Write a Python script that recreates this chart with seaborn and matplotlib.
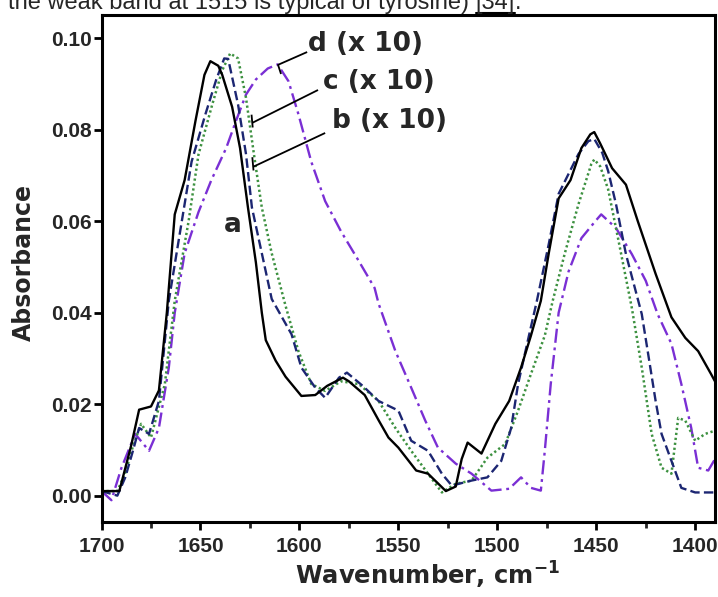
import matplotlib
matplotlib.use("Agg")
import matplotlib.pyplot as plt
import seaborn as sns
import pandas as pd
from matplotlib.ticker import MultipleLocator, FormatStrFormatter
from matplotlib.lines import Line2D

# ---------------- data ----------------
wn_a = [1700, 1691, 1688, 1685, 1681, 1675, 1671, 1667, 1663, 1658, 1652.5, 1648, 1645, 1641,
        1639, 1634, 1630, 1626, 1622, 1619, 1617, 1612, 1607, 1599, 1592, 1586, 1578, 1575,
        1567, 1560, 1555, 1550, 1541, 1535, 1526, 1521, 1518, 1515, 1508, 1501, 1494, 1488,
        1483, 1478, 1474, 1469, 1463, 1457.5, 1453, 1451, 1448, 1442, 1435, 1429, 1420, 1412,
        1405, 1398.5, 1392, 1390]
abs_a = [0.001, 0.001, 0.006, 0.011, 0.0188, 0.0195, 0.023, 0.040, 0.0615, 0.069, 0.082, 0.092,
         0.095, 0.094, 0.092, 0.085, 0.076, 0.063, 0.051, 0.040, 0.034, 0.0295, 0.026, 0.0218,
         0.022, 0.024, 0.0258, 0.025, 0.022, 0.0165, 0.0127, 0.0105, 0.0055, 0.0048, 0.001,
         0.002, 0.008, 0.0116, 0.0092, 0.0157, 0.0207, 0.028, 0.035, 0.0426, 0.053, 0.065,
         0.069, 0.076, 0.079, 0.0795, 0.077, 0.0716, 0.068, 0.060, 0.0485, 0.039, 0.0345,
         0.0316, 0.0266, 0.025]

wn_b = [1700, 1692, 1688, 1684, 1681, 1676, 1671, 1666, 1660, 1654.5, 1647.5, 1642, 1638, 1636,
        1631, 1627, 1624, 1619, 1614, 1604, 1599, 1592, 1587, 1580, 1576, 1568, 1560, 1550,
        1543.5, 1535, 1528, 1523, 1513, 1505, 1498, 1493, 1489.5, 1484, 1480, 1474, 1469,
        1459, 1454, 1451, 1447, 1444, 1440, 1435, 1427, 1424, 1420, 1417, 1412, 1407, 1400,
        1390]
abs_b = [0.001, 0.0, 0.004, 0.010, 0.0148, 0.0135, 0.0207, 0.0426, 0.0585, 0.073, 0.0834, 0.091,
         0.0956, 0.0955, 0.0855, 0.0747, 0.063, 0.053, 0.043, 0.0353, 0.028, 0.0236, 0.0214,
         0.0258, 0.0269, 0.024, 0.0207, 0.0186, 0.012, 0.0098, 0.0048, 0.0022, 0.0033, 0.004,
         0.0076, 0.0148, 0.0244, 0.035, 0.0426, 0.055, 0.066, 0.0747, 0.0775, 0.078, 0.075,
         0.071, 0.0637, 0.0528, 0.0397, 0.0316, 0.0207, 0.0135, 0.0076, 0.0017, 0.0007, 0.0007]

wn_c = [1700, 1692, 1688, 1684, 1680, 1675, 1668, 1663, 1656, 1651, 1644, 1639, 1635, 1631,
        1627, 1623, 1619, 1614, 1607, 1600.5, 1594, 1587, 1579, 1570, 1560, 1551.5, 1543.5,
        1535, 1528, 1521, 1513, 1505, 1496, 1489.5, 1483, 1476, 1472, 1466, 1459, 1452.5,
        1451, 1448, 1444, 1439, 1432, 1427, 1422, 1417, 1412, 1408.6, 1405, 1400, 1395, 1390]
abs_c = [0.001, 0.001, 0.005, 0.011, 0.0157, 0.0127, 0.0244, 0.0426, 0.060, 0.0746, 0.0856,
         0.093, 0.0967, 0.0956, 0.087, 0.0747, 0.063, 0.053, 0.0415, 0.0316, 0.0244, 0.0229,
         0.025, 0.0244, 0.0207, 0.0148, 0.0098, 0.0048, 0.0007, 0.0026, 0.0033, 0.0083, 0.0113,
         0.0186, 0.0266, 0.035, 0.0426, 0.0528, 0.0637, 0.0725, 0.0735, 0.072, 0.067, 0.0563,
         0.041, 0.028, 0.0135, 0.0061, 0.0048, 0.017, 0.0164, 0.012, 0.0135, 0.0142]

wn_d = [1700, 1695, 1690, 1683, 1676, 1671, 1666, 1663, 1658, 1651, 1644.5, 1637, 1632, 1627,
        1622, 1616, 1611, 1605.5, 1600.5, 1594, 1587, 1579, 1570, 1562, 1560, 1551.5, 1543.5,
        1536.4, 1530, 1521, 1513, 1503, 1494, 1488, 1483, 1478, 1476, 1473, 1469, 1464,
        1457.5, 1450.5, 1447.5, 1440, 1432, 1425, 1419, 1412, 1407, 1402, 1398.5, 1393.4, 1390]
abs_d = [0.001, -0.001, 0.006, 0.0135, 0.0098, 0.0148, 0.028, 0.040, 0.053, 0.062, 0.069, 0.076,
         0.082, 0.0877, 0.091, 0.0934, 0.0943, 0.0906, 0.0834, 0.073, 0.0644, 0.0578, 0.0513,
         0.0454, 0.042, 0.0316, 0.0236, 0.0164, 0.0105, 0.007, 0.0048, 0.0011, 0.0015, 0.004,
         0.0017, 0.0011, 0.0098, 0.0244, 0.040, 0.049, 0.0563, 0.060, 0.0615, 0.0585, 0.0528,
         0.047, 0.0397, 0.0332, 0.0244, 0.0148, 0.0061, 0.0055, 0.008]

series_labels = ["a", "b (x 10)", "c (x 10)", "d (x 10)"]
x_ticks = [1700, 1650, 1600, 1550, 1500, 1450, 1400]
y_ticks = [0.00, 0.02, 0.04, 0.06, 0.08, 0.10]
x_label = "Wavenumber, cm$^{\\mathbf{-1}}$"
y_label = "Absorbance"
caption = "the weak band at 1515 is typical of tyrosine) "
caption_ref = "[34]"
caption_end = "."

# ---------------- styling / layout ----------------
sns.set_style("ticks")
plt.rcParams["font.family"] = ["Liberation Sans", "DejaVu Sans"]
plt.rcParams["mathtext.fontset"] = "custom"
plt.rcParams["mathtext.bf"] = "DejaVu Sans:bold"
plt.rcParams["mathtext.rm"] = "DejaVu Sans"

fig = plt.figure(figsize=(7.18, 5.97), dpi=100)
ax = fig.add_axes([0.1414, 0.1261, 0.9958 - 0.1414, 0.9749 - 0.1261])

styles = [
    dict(color="#000000", linestyle="-", linewidth=1.7),
    dict(color="#1c2672", linestyle=(0, (4.0, 1.8)), linewidth=1.7),
    dict(color="#3d9140", linestyle=(0, (0.9, 1.1)), linewidth=1.8),
    dict(color="#7a2fd4", linestyle=(0, (6.0, 2.0, 1.2, 2.0)), linewidth=1.7),
]
# draw d first, then c, b, a on top
for wn, ab, st, lab in [(wn_d, abs_d, styles[3], series_labels[3]),
                        (wn_c, abs_c, styles[2], series_labels[2]),
                        (wn_b, abs_b, styles[1], series_labels[1]),
                        (wn_a, abs_a, styles[0], series_labels[0])]:
    df = pd.DataFrame({"wn": wn, "abs": ab})
    sns.lineplot(data=df, x="wn", y="abs", ax=ax, sort=False, estimator=None,
                 legend=False, **st)

ax.set_xlim(1700, 1390)
ax.set_ylim(-0.0057, 0.1051)
ax.set_xticks(x_ticks)
ax.xaxis.set_minor_locator(MultipleLocator(25))
ax.set_yticks(y_ticks)
ax.yaxis.set_major_formatter(FormatStrFormatter("%.2f"))

for sp in ax.spines.values():
    sp.set_visible(True)
    sp.set_linewidth(2.2)
    sp.set_color("black")

ax.tick_params(axis="both", which="major", direction="out", length=6, width=2,
               labelsize=15, color="black", top=False, right=False)
ax.tick_params(axis="x", which="major", pad=5)
ax.tick_params(axis="y", which="major", pad=1)
ax.tick_params(axis="x", which="minor", direction="out", length=4, width=2, top=False)
for t in ax.get_xticklabels() + ax.get_yticklabels():
    t.set_fontweight("bold")

wide = ["DejaVu Sans"]
ax.set_xlabel(x_label, fontsize=17.5, fontweight="bold", family=wide)
ax.set_ylabel(y_label, fontsize=17, fontweight="bold", family=wide)
ax.xaxis.label.set_va("center")
ax.xaxis.set_label_coords(0.531, -0.105)
ax.yaxis.label.set_va("center")
ax.yaxis.set_label_coords(-0.126, 0.512)

# curve labels with leader lines
ann_fs = 19
ann_kw = dict(fontsize=ann_fs, fontweight="bold", family=wide, va="center")
ax.text(1595.6, 0.0988, series_labels[3], ha="left", **ann_kw)
ax.text(1588.0, 0.0905, series_labels[2], ha="left", **ann_kw)
ax.text(1583.5, 0.0819, series_labels[1], ha="left", **ann_kw)
ax.text(1633.5, 0.0592, series_labels[0], ha="center", **ann_kw)

leaders = [
    ([1596.1, 1610.8, 1609.3], [0.0970, 0.0942, 0.0922]),
    ([1590.6, 1623.9], [0.0887, 0.0815]),
    ([1624.2, 1623.6], [0.0833, 0.0805]),
    ([1587.0, 1623.4], [0.0793, 0.0719]),
    ([1623.8, 1623.2], [0.0740, 0.0711]),
]
for lx, ly in leaders:
    ax.plot(lx, ly, color="black", linewidth=1.3, solid_capstyle="butt")

# cropped caption text at the top of the image
cap_fs = 17
base_y = 1 - 9 / 597
t1 = fig.text(8 / 718, base_y, caption, fontsize=cap_fs, ha="left", va="baseline")
fig.canvas.draw()
r = fig.canvas.get_renderer()
bb1 = t1.get_window_extent(r)
t2 = fig.text(bb1.x1 / 718, base_y, caption_ref, fontsize=cap_fs, ha="left", va="baseline")
fig.canvas.draw()
bb2 = t2.get_window_extent(r)
t3 = fig.text(bb2.x1 / 718, base_y, caption_end, fontsize=cap_fs, ha="left", va="baseline")
uy = 1 - 13 / 597
fig.add_artist(Line2D([bb2.x0 / 718, bb2.x1 / 718], [uy, uy], color="black", linewidth=1.5,
                      transform=fig.transFigure))

fig.savefig("out.png", dpi=100)
